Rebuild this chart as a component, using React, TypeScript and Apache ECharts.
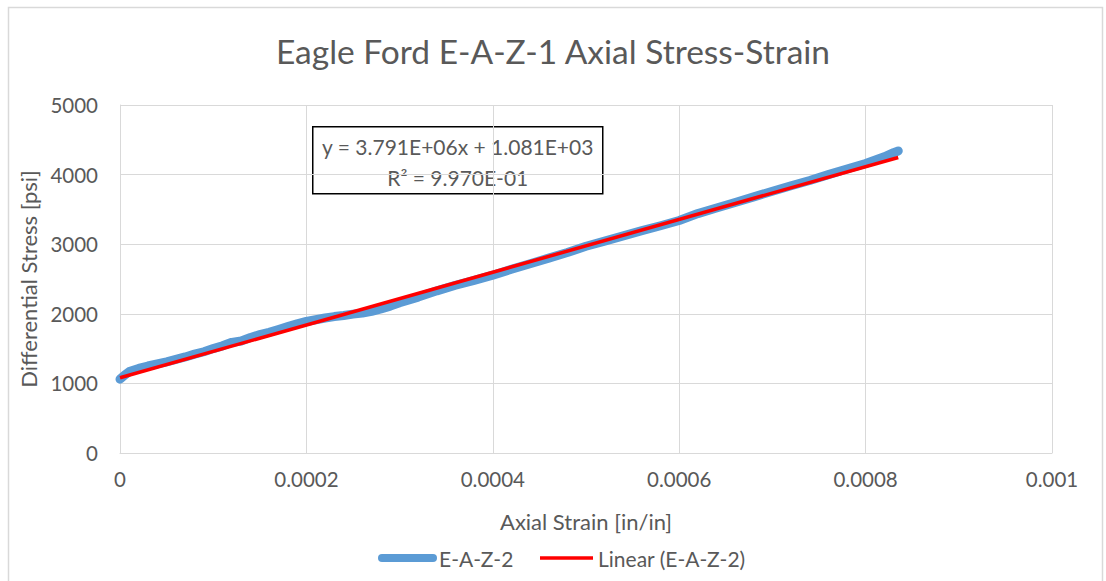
import React, { useEffect, useRef } from "react";
import * as echarts from "echarts";

// Measured axial strain [in/in] and differential stress [psi] for specimen E-A-Z-2
const strain: number[] = [
  0, 0.000005, 0.00001, 0.00002, 0.00003, 0.00004, 0.00005, 0.00006, 0.00007, 0.00008,
  0.00009, 0.0001, 0.00011, 0.00012, 0.00013, 0.00014, 0.00015, 0.00016, 0.00017, 0.00018,
  0.00019, 0.0002, 0.00021, 0.00022, 0.00023, 0.00024, 0.00025, 0.00026, 0.00027, 0.00028,
  0.00029, 0.0003, 0.00032, 0.00034, 0.00036, 0.00038, 0.0004, 0.00042, 0.00044, 0.00046,
  0.00048, 0.0005, 0.00052, 0.00054, 0.00056, 0.00058, 0.0006, 0.00062, 0.00064, 0.00066,
  0.00068, 0.0007, 0.00072, 0.00074, 0.00076, 0.00078, 0.0008, 0.00082, 0.00083, 0.000835,
];
const stress: number[] = [
  1060, 1120, 1170, 1215, 1250, 1280, 1310, 1345, 1380, 1420,
  1455, 1500, 1540, 1590, 1610, 1660, 1700, 1735, 1775, 1815,
  1855, 1890, 1915, 1940, 1960, 1975, 1995, 2010, 2035, 2070,
  2110, 2160, 2240, 2330, 2410, 2480, 2555, 2640, 2720, 2800,
  2880, 2970, 3045, 3120, 3195, 3265, 3340, 3440, 3520, 3600,
  3680, 3760, 3840, 3915, 4000, 4080, 4160, 4255, 4315, 4340,
];

// Linear fit reported for the series
const fitSlope = 3.791e6;
const fitIntercept = 1.081e3;
const fitR2 = 9.97e-1;

const xTicks: number[] = [0, 0.0002, 0.0004, 0.0006, 0.0008, 0.001];
const yTicks: number[] = [0, 1000, 2000, 3000, 4000, 5000];

const seriesName = "E-A-Z-2";
const trendName = "Linear (E-A-Z-2)";
const titleText = "Eagle Ford E-A-Z-1 Axial Stress-Strain";
const xName = "Axial Strain [in/in]";
const yName = "Differential Stress [psi]";

const FONT = "Lato, 'Open Sans', sans-serif";
const TEXT = "#595959";
const GRID = "#d9d9d9";
const BLUE = "#5b9bd5";
const RED = "#ff0000";

const fmtExp = (v: number): string => {
  const [m, e] = v.toExponential(3).split("e");
  const sign = e.startsWith("-") ? "-" : "+";
  const digits = e.replace(/[+-]/, "").padStart(2, "0");
  return `${m}E${sign}${digits}`;
};

export default function App() {
  const ref = useRef<HTMLDivElement>(null);

  useEffect(() => {
    if (!ref.current) return;
    const chart = echarts.init(ref.current, undefined, { renderer: "svg" });

    const points = strain.map((x, i) => [x, stress[i]]);
    const xEnd = strain[strain.length - 1];
    const trend = [
      [0, fitIntercept + fitSlope * 0],
      [xEnd, fitIntercept + fitSlope * xEnd],
    ];

    const eqLine1 = `y = ${fmtExp(fitSlope)}x + ${fmtExp(fitIntercept)}`;
    const eqLine2 = `R² = ${fmtExp(fitR2)}`;

    chart.setOption({
      animation: false,
      backgroundColor: "#ffffff",
      title: {
        text: titleText,
        left: "center",
        top: 29,
        textStyle: { fontFamily: FONT, fontSize: 33.5, fontWeight: "normal", color: TEXT },
      },
      grid: { left: 120, right: 54, top: 105, bottom: 128, containLabel: false },
      xAxis: {
        type: "value",
        min: xTicks[0],
        max: xTicks[xTicks.length - 1],
        interval: xTicks[1] - xTicks[0],
        name: xName,
        nameLocation: "middle",
        nameGap: 57,
        nameTextStyle: { fontFamily: FONT, fontSize: 22, color: TEXT },
        axisLine: { show: true, lineStyle: { color: GRID, width: 1 } },
        axisTick: { show: false },
        splitLine: { show: true, lineStyle: { color: GRID, width: 1 } },
        axisLabel: {
          fontFamily: FONT,
          fontSize: 20.5,
          color: TEXT,
          margin: 15,
          formatter: (v: number) => String(parseFloat(v.toPrecision(6))),
        },
      },
      yAxis: {
        type: "value",
        min: yTicks[0],
        max: yTicks[yTicks.length - 1],
        interval: yTicks[1] - yTicks[0],
        name: yName,
        nameLocation: "middle",
        nameGap: 77,
        nameTextStyle: { fontFamily: FONT, fontSize: 22, color: TEXT },
        axisLine: { show: true, lineStyle: { color: GRID, width: 1 } },
        axisTick: { show: false },
        splitLine: { show: true, lineStyle: { color: GRID, width: 1 } },
        axisLabel: {
          fontFamily: FONT,
          fontSize: 20.5,
          color: TEXT,
          margin: 22,
          formatter: (v: number) => String(v),
        },
      },
      series: [
        {
          name: seriesName,
          type: "line",
          data: points,
          showSymbol: false,
          symbol: "none",
          lineStyle: { color: BLUE, width: 9, cap: "round", join: "round" },
          z: 2,
        },
        {
          name: trendName,
          type: "line",
          data: trend,
          showSymbol: false,
          symbol: "none",
          lineStyle: { color: RED, width: 3.5, cap: "butt" },
          z: 3,
        },
      ],
      graphic: [
        {
          type: "rect",
          left: 6,
          top: 5,
          shape: { width: 1094, height: 580 },
          style: { fill: "none", stroke: GRID, lineWidth: 1.5 },
          silent: true,
          z: 0,
        },
        {
          type: "group",
          left: 312,
          top: 126,
          z: 10,
          children: [
            {
              type: "rect",
              shape: { x: 0, y: 0, width: 290, height: 67 },
              style: { fill: "#ffffff", stroke: "#000000", lineWidth: 1.5 },
            },
            {
              type: "text",
              x: 145,
              y: 20,
              style: {
                text: eqLine1,
                fontFamily: FONT,
                fontSize: 21,
                fill: TEXT,
                align: "center",
                verticalAlign: "middle",
              },
            },
            {
              type: "text",
              x: 145,
              y: 51,
              style: {
                text: eqLine2,
                fontFamily: FONT,
                fontSize: 21,
                fill: TEXT,
                align: "center",
                verticalAlign: "middle",
              },
            },
          ],
        },
        // legend
        {
          type: "line",
          shape: { x1: 382, y1: 558, x2: 433, y2: 558 },
          style: { stroke: BLUE, lineWidth: 8, lineCap: "round" },
        },
        {
          type: "text",
          x: 439,
          y: 558,
          style: {
            text: seriesName,
            fontFamily: FONT,
            fontSize: 21,
            fill: TEXT,
            verticalAlign: "middle",
          },
        },
        {
          type: "line",
          shape: { x1: 540, y1: 558, x2: 593, y2: 558 },
          style: { stroke: RED, lineWidth: 3.5 },
        },
        {
          type: "text",
          x: 598,
          y: 558,
          style: {
            text: trendName,
            fontFamily: FONT,
            fontSize: 21,
            fill: TEXT,
            verticalAlign: "middle",
          },
        },
      ],
    });

    return () => chart.dispose();
  }, []);

  return (
    <div
      ref={ref}
      style={{ position: "fixed", left: 0, top: 0, width: 1106, height: 581, background: "#fff" }}
    />
  );
}
